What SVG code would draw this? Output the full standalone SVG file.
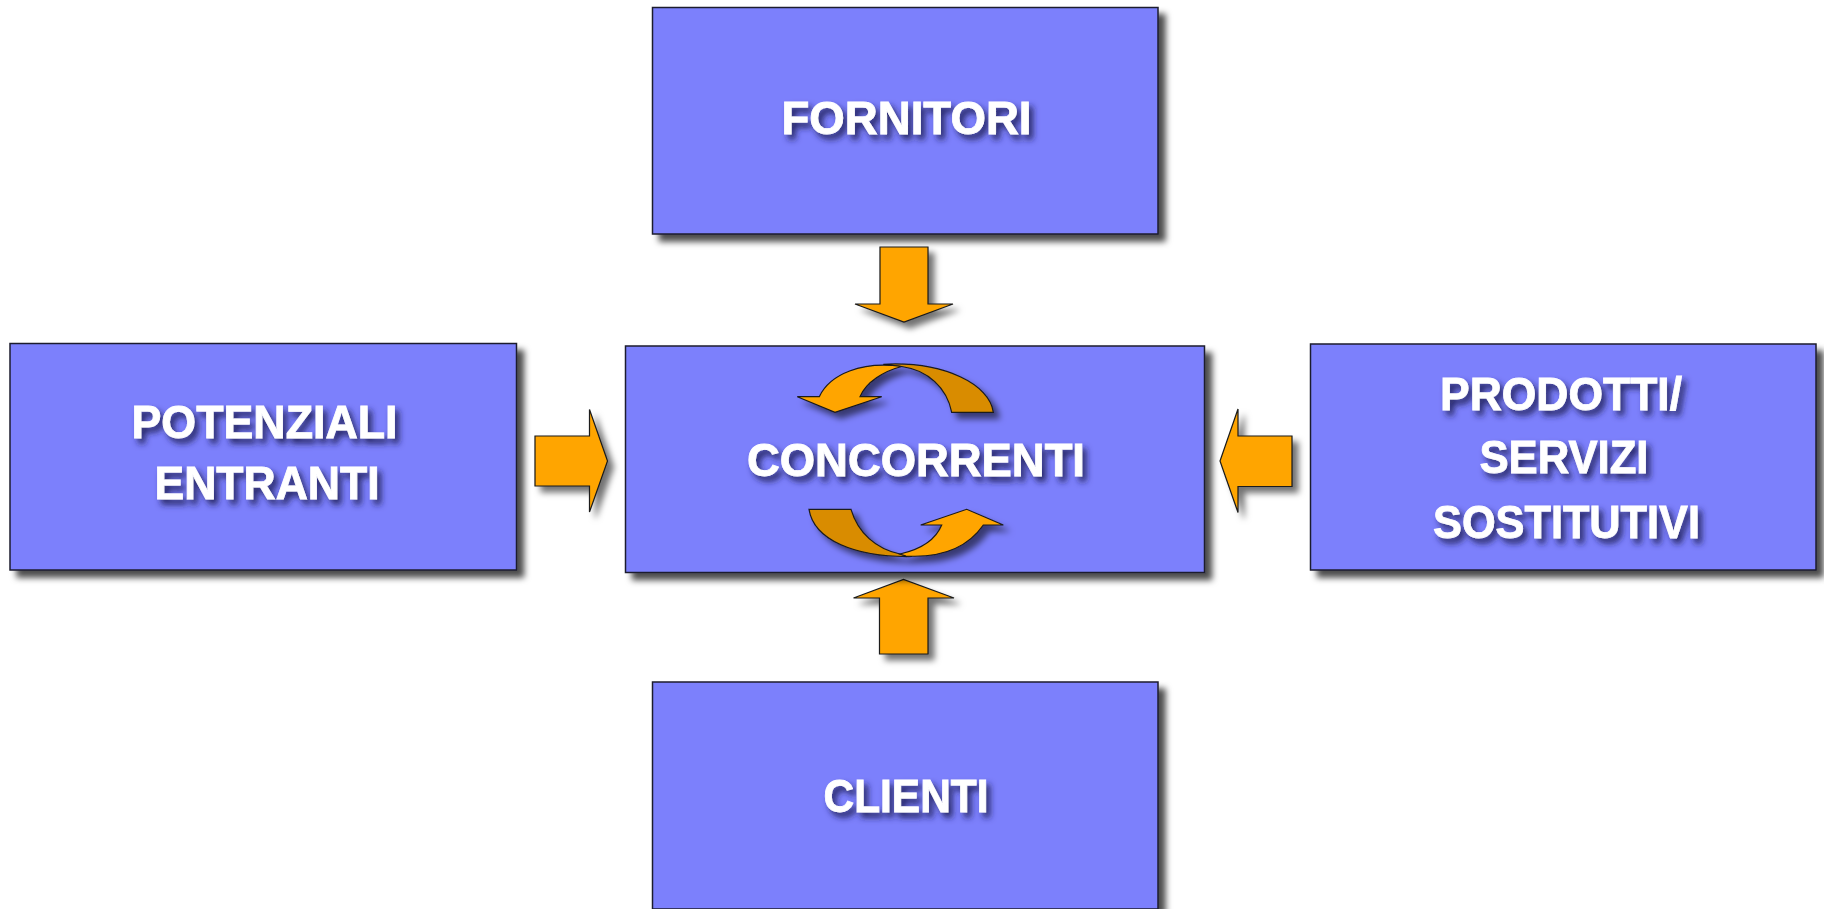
<svg xmlns="http://www.w3.org/2000/svg" width="1824" height="909" viewBox="0 0 1824 909">
  <defs>
    <filter id="boxShadow" x="-5%" y="-5%" width="115%" height="120%">
      <feDropShadow dx="7" dy="7" stdDeviation="3" flood-color="#000000" flood-opacity="0.7"/>
    </filter>
    <filter id="arrowShadow" x="-20%" y="-20%" width="150%" height="150%">
      <feDropShadow dx="6" dy="6" stdDeviation="3" flood-color="#000000" flood-opacity="0.55"/>
    </filter>
    <filter id="textShadow" x="-10%" y="-30%" width="125%" height="180%">
      <feDropShadow dx="4" dy="5" stdDeviation="3.2" flood-color="#1a1a55" flood-opacity="0.9"/>
    </filter>
  </defs>
  <style>
    .box { fill: #7b80fc; stroke: #1e1e2e; stroke-width: 1.5; filter: url(#boxShadow); }
    .lbl { font-family: "Liberation Sans", Arial, sans-serif; font-weight: bold; font-size: 46px; fill: #ffffff; stroke: #ffffff; stroke-width: 0.8; text-anchor: middle; filter: url(#textShadow); }
    .arr { fill: #ffa500; stroke: #1a1a1a; stroke-width: 1.2; stroke-linejoin: miter; }
    .arrDark { fill: #d98c00; stroke: #1a1a1a; stroke-width: 1.2; }
    .sh { filter: url(#arrowShadow); }
  </style>
  <rect width="1824" height="909" fill="#ffffff"/>

  <g id="connectors">
    <g class="sh">
      <!-- from FORNITORI (down) -->
      <polygon class="arr" points="880,247 928,247 928,304 953,304 904,322 855,304 880,304"/>
      <!-- from CLIENTI (up) -->
      <polygon class="arr" points="879.5,654 928,654 928,598 954,598 903.5,579.5 853.5,598 879.5,598"/>
      <!-- from POTENZIALI ENTRANTI (right) -->
      <polygon class="arr" points="535,436 589.5,436 589.5,409.5 607.5,461 589.5,512 589.5,486 535,486"/>
      <!-- from PRODOTTI/SERVIZI SOSTITUTIVI (left) -->
      <polygon class="arr" points="1292,436 1238,436 1238,409 1220,461 1238,512.5 1238,486.5 1292,486.5"/>
    </g>
  </g>

  <g id="node-fornitori">
    <rect class="box" x="652.5" y="7.5" width="505.5" height="226.5"/>
    <text class="lbl" x="906.5" y="134" textLength="250" lengthAdjust="spacingAndGlyphs">FORNITORI</text>
  </g>

  <g id="node-potenziali-entranti">
    <rect class="box" x="10" y="343.5" width="506.5" height="226.5"/>
    <text class="lbl" x="264.5" y="438" textLength="266" lengthAdjust="spacingAndGlyphs">POTENZIALI</text>
    <text class="lbl" x="267" y="499" textLength="225" lengthAdjust="spacingAndGlyphs">ENTRANTI</text>
  </g>

  <g id="node-prodotti-servizi-sostitutivi">
    <rect class="box" x="1310.5" y="344" width="505.5" height="226"/>
    <text class="lbl" x="1561" y="409.5" textLength="242" lengthAdjust="spacingAndGlyphs">PRODOTTI/</text>
    <text class="lbl" x="1564" y="473" textLength="169" lengthAdjust="spacingAndGlyphs">SERVIZI</text>
    <text class="lbl" x="1566.5" y="537.5" textLength="267" lengthAdjust="spacingAndGlyphs">SOSTITUTIVI</text>
  </g>

  <g id="node-clienti">
    <rect class="box" x="652.5" y="682" width="505.5" height="227"/>
    <text class="lbl" x="906" y="812" textLength="165" lengthAdjust="spacingAndGlyphs">CLIENTI</text>
  </g>

  <g id="node-concorrenti">
    <rect class="box" x="625.5" y="346" width="579" height="226.5"/>
    <g class="sh">
      <!-- top cycle arrow -->
      <path class="arrDark" d="M 883.3,364.3 C 945,361 990,385 993.3,412.3 L 951.7,412.3 C 947,388 928,370 901.7,366.5 Z"/>
      <path class="arr" d="M 819.3,396.7 C 830,374 862,361 901.7,366.5 C 884,371 866,382 860,396.7 L 881.7,396.7 L 835,412.3 L 797.3,396.7 Z"/>
      <!-- bottom cycle arrow -->
      <path class="arrDark" d="M 809,509.3 L 851,509.3 C 858,533 876,549 900,554 C 904,555.5 908,556 912,556.5 C 855,557.5 814,540 809,509.3 Z"/>
      <path class="arr" d="M 900,554 C 922,549 936,539 941.7,525 L 920.7,525 L 966.7,509.3 L 1003.3,525 L 983.3,525 C 968,547 942,558 906,556 Z"/>
    </g>
    <text class="lbl" x="916" y="476" textLength="338" lengthAdjust="spacingAndGlyphs">CONCORRENTI</text>
  </g>
</svg>
